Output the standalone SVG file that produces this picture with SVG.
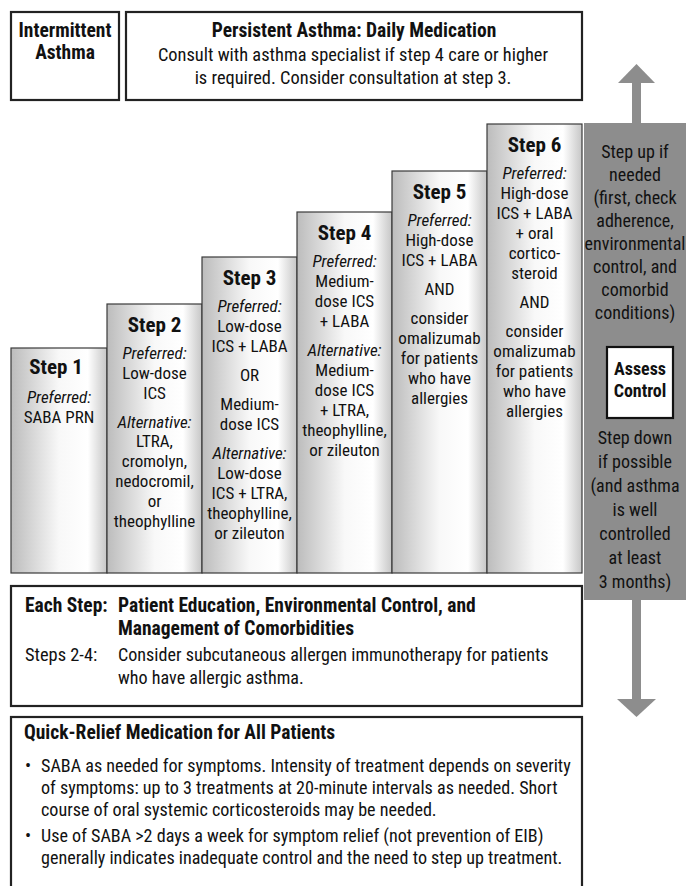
<svg xmlns="http://www.w3.org/2000/svg" width="686" height="886" viewBox="0 0 686 886">
<defs>
<style>
text{font-family:'Liberation Sans Narrow','Arial Narrow','Roboto Condensed','DejaVu Sans Condensed',Roboto,sans-serif;font-stretch:condensed;fill:#111;font-size:17px}
.b{font-weight:bold}
.i{font-style:italic}
.m{text-anchor:middle}
.h{font-size:19.5px;font-weight:bold}
.r{font-size:18.4px}
.q{font-size:18.1px}
.p{font-size:18px}
.t{font-weight:bold;font-size:21px;text-anchor:middle}
.box{fill:#fff;stroke:#222;stroke-width:2.2}
.col{fill:url(#g);stroke:#3a3a3a;stroke-width:1.2}
.gr{fill:#8d8d8d}
</style>
<linearGradient id="g" x1="0" y1="0" x2="1" y2="0">
<stop offset="0" stop-color="#bcbcbc"/>
<stop offset="0.5" stop-color="#f8f8f8"/>
<stop offset="0.8" stop-color="#ffffff"/>
<stop offset="1" stop-color="#c6c6c6"/>
</linearGradient>
</defs>
<rect width="686" height="886" fill="#fff"/>

<g id="intermittent">
<rect class="box" x="11" y="12" width="108" height="88"/>
<text class="h m" x="65" y="37">Intermittent</text>
<text class="h m" x="65" y="59">Asthma</text>
</g>

<g id="persistent">
<rect class="box" x="126" y="12" width="456" height="88"/>
<text class="h m" x="354" y="37">Persistent Asthma: Daily Medication</text>
<text class="r m" x="353" y="61">Consult with asthma specialist if step 4 care or higher</text>
<text class="r m" x="353" y="84">is required. Consider consultation at step 3.</text>
</g>

<g id="step1">
<rect class="col" x="11" y="348" width="96" height="225"/>
<text class="t" x="56" y="374">Step 1</text>
<text class="i m" x="59" y="403">Preferred:</text>
<text class="m" x="59" y="423">SABA PRN</text>
</g>

<g id="step2">
<rect class="col" x="107" y="304" width="95" height="269"/>
<text class="t" x="154.5" y="332">Step 2</text>
<text class="i m" x="154.5" y="359">Preferred:</text>
<text class="m" x="154.5" y="379">Low-dose</text>
<text class="m" x="154.5" y="399">ICS</text>
<text class="i m" x="154.5" y="428">Alternative:</text>
<text class="m" x="154.5" y="447">LTRA,</text>
<text class="m" x="154.5" y="467">cromolyn,</text>
<text class="m" x="154.5" y="487">nedocromil,</text>
<text class="m" x="154.5" y="507">or</text>
<text class="m" x="154.5" y="527">theophylline</text>
</g>

<g id="step3">
<rect class="col" x="202" y="257" width="95" height="316"/>
<text class="t" x="249.5" y="285">Step 3</text>
<text class="i m" x="249.5" y="312">Preferred:</text>
<text class="m" x="249.5" y="332">Low-dose</text>
<text class="m" x="249.5" y="352">ICS + LABA</text>
<text class="m" x="249.5" y="381">OR</text>
<text class="m" x="249.5" y="410">Medium-</text>
<text class="m" x="249.5" y="430">dose ICS</text>
<text class="i m" x="249.5" y="459">Alternative:</text>
<text class="m" x="249.5" y="479">Low-dose</text>
<text class="m" x="249.5" y="499">ICS + LTRA,</text>
<text class="m" x="249.5" y="519">theophylline,</text>
<text class="m" x="249.5" y="539">or zileuton</text>
</g>

<g id="step4">
<rect class="col" x="297" y="212" width="95" height="361"/>
<text class="t" x="344.5" y="240">Step 4</text>
<text class="i m" x="344.5" y="267">Preferred:</text>
<text class="m" x="344.5" y="287">Medium-</text>
<text class="m" x="344.5" y="307">dose ICS</text>
<text class="m" x="344.5" y="327">+ LABA</text>
<text class="i m" x="344.5" y="356">Alternative:</text>
<text class="m" x="344.5" y="376">Medium-</text>
<text class="m" x="344.5" y="396">dose ICS</text>
<text class="m" x="344.5" y="416">+ LTRA,</text>
<text class="m" x="344.5" y="436">theophylline,</text>
<text class="m" x="344.5" y="456">or zileuton</text>
</g>

<g id="step5">
<rect class="col" x="392" y="171" width="95" height="402"/>
<text class="t" x="439.5" y="199">Step 5</text>
<text class="i m" x="439.5" y="226">Preferred:</text>
<text class="m" x="439.5" y="246">High-dose</text>
<text class="m" x="439.5" y="266">ICS + LABA</text>
<text class="m" x="439.5" y="295">AND</text>
<text class="m" x="439.5" y="324">consider</text>
<text class="m" x="439.5" y="344">omalizumab</text>
<text class="m" x="439.5" y="364">for patients</text>
<text class="m" x="439.5" y="384">who have</text>
<text class="m" x="439.5" y="404">allergies</text>
</g>

<g id="step6">
<rect class="col" x="487" y="124" width="95" height="449"/>
<text class="t" x="534.5" y="152">Step 6</text>
<text class="i m" x="534.5" y="179">Preferred:</text>
<text class="m" x="534.5" y="199">High-dose</text>
<text class="m" x="534.5" y="219">ICS + LABA</text>
<text class="m" x="534.5" y="239">+ oral</text>
<text class="m" x="534.5" y="259">cortico-</text>
<text class="m" x="534.5" y="279">steroid</text>
<text class="m" x="534.5" y="308">AND</text>
<text class="m" x="534.5" y="337">consider</text>
<text class="m" x="534.5" y="357">omalizumab</text>
<text class="m" x="534.5" y="377">for patients</text>
<text class="m" x="534.5" y="397">who have</text>
<text class="m" x="534.5" y="417">allergies</text>
</g>

<g id="control-panel">
<rect class="gr" x="584" y="123" width="102" height="477"/>
<text class="p m" x="635" y="158">Step up if</text>
<text class="p m" x="635" y="181">needed</text>
<text class="p m" x="635" y="204">(first, check</text>
<text class="p m" x="635" y="227">adherence,</text>
<text class="p m" x="635" y="250">environmental</text>
<text class="p m" x="635" y="273">control, and</text>
<text class="p m" x="635" y="296">comorbid</text>
<text class="p m" x="635" y="319">conditions)</text>
<text class="p m" x="635" y="444">Step down</text>
<text class="p m" x="635" y="468">if possible</text>
<text class="p m" x="635" y="492">(and asthma</text>
<text class="p m" x="635" y="516">is well</text>
<text class="p m" x="635" y="540">controlled</text>
<text class="p m" x="635" y="564">at least</text>
<text class="p m" x="635" y="588">3 months)</text>
</g>

<g id="assess-control">
<rect x="607" y="347" width="66" height="71" fill="#fff" stroke="#111" stroke-width="2.2"/>
<text class="b m p" x="640" y="375">Assess</text>
<text class="b m p" x="640" y="397">Control</text>
</g>

<g id="connectors">
<rect class="gr" x="632" y="82" width="9" height="42"/>
<polygon class="gr" points="636.5,64 655,83 618,83"/>
<rect class="gr" x="632" y="599" width="9" height="101"/>
<polygon class="gr" points="617,699 656,699 636.5,717"/>
</g>

<g id="each-step">
<rect class="box" x="11" y="586" width="571" height="120"/>
<text class="h" x="25" y="612">Each Step:</text>
<text class="h" x="118" y="612">Patient Education, Environmental Control, and</text>
<text class="h" x="118" y="635">Management of Comorbidities</text>
<text class="r" x="25" y="661">Steps 2-4:</text>
<text class="q" x="118" y="661">Consider subcutaneous allergen immunotherapy for patients</text>
<text class="q" x="118" y="684">who have allergic asthma.</text>
</g>

<g id="quick-relief">
<rect class="box" x="11" y="717" width="571" height="180"/>
<text class="h" x="24" y="739" font-size="19">Quick-Relief Medication for All Patients</text>
<text class="q" x="25" y="772">•</text>
<text class="q" x="41" y="772">SABA as needed for symptoms. Intensity of treatment depends on severity</text>
<text class="q" x="41" y="794">of symptoms: up to 3 treatments at 20-minute intervals as needed. Short</text>
<text class="q" x="41" y="816">course of oral systemic corticosteroids may be needed.</text>
<text class="q" x="25" y="842">•</text>
<text class="q" x="41" y="842">Use of SABA &gt;2 days a week for symptom relief (not prevention of EIB)</text>
<text class="q" x="41" y="864">generally indicates inadequate control and the need to step up treatment.</text>
</g>
</svg>
